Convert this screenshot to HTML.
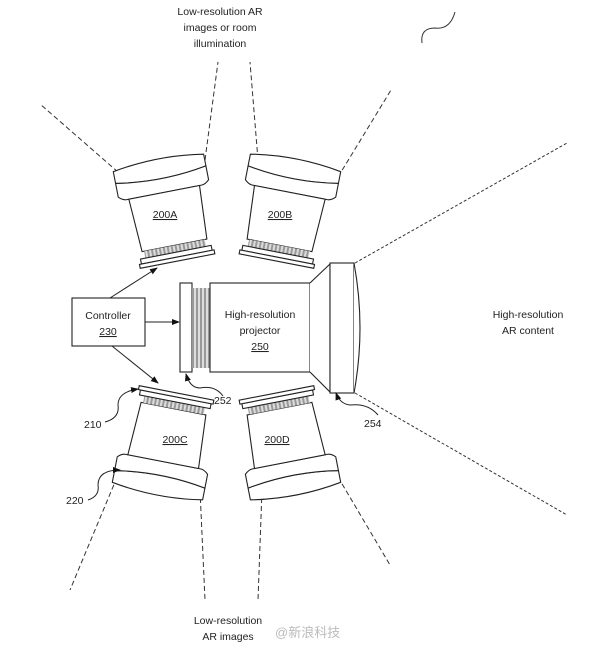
<!DOCTYPE html>
<html><head><meta charset="utf-8"><style>
html,body{margin:0;padding:0;background:#fff;width:600px;height:648px;overflow:hidden}
svg{display:block}
text{font-family:"Liberation Sans",Arial,sans-serif;font-size:10.5px;fill:#222}
</style></head><body>
<svg width="600" height="648" viewBox="0 0 600 648" xmlns="http://www.w3.org/2000/svg">
<defs>
<marker id="ar" markerWidth="8" markerHeight="8" refX="7" refY="4" orient="auto" markerUnits="userSpaceOnUse"><path d="M0,1 L8,4 L0,7 z" fill="#111"/></marker>
<pattern id="fin" width="4" height="4" patternUnits="userSpaceOnUse"><rect width="4" height="4" fill="#ddd"/><rect width="2" height="4" fill="#999"/></pattern>
<g id="proj" stroke="#222" stroke-width="1.1" fill="#fff">
<path d="M-46,-50 Q0,-58 46,-50 L46,-38 Q0,-30 -46,-38 Z"/>
<path d="M-46,-38 Q0,-30 46,-38 L46,-24 Q42,-20 38,-20 L-38,-20 Q-42,-20 -46,-24 Z"/>
<path d="M-36,-20 L36,-20 L33,34 L-33,34 Z"/>
<rect x="-31" y="34" width="62" height="7" fill="url(#fin)" stroke="none"/>
<rect x="-36" y="41" width="72" height="5"/>
<rect x="-38" y="46" width="76" height="4"/>
</g>
</defs>
<g fill="none" stroke="#333" stroke-width="1" stroke-dasharray="5,3">
<line x1="118" y1="172" x2="40" y2="104"/>
<line x1="205" y1="160" x2="218" y2="62"/>
<line x1="258" y1="160" x2="250" y2="62"/>
<line x1="338" y1="177" x2="391" y2="90"/>
<line x1="120" y1="470" x2="70" y2="590"/>
<line x1="200" y1="490" x2="205" y2="600"/>
<line x1="262" y1="490" x2="258" y2="600"/>
<line x1="338" y1="477" x2="390" y2="565"/>
<line x1="355" y1="263" x2="567" y2="143" stroke-dasharray="3,2"/>
<line x1="355" y1="393" x2="567" y2="515" stroke-dasharray="3,2"/>
</g>
<use href="#proj" transform="translate(168,212) rotate(-11)"/>
<use href="#proj" transform="translate(286,212) rotate(11)"/>
<use href="#proj" transform="translate(167,442) scale(1,-1) rotate(-11)"/>
<use href="#proj" transform="translate(286,442) scale(1,-1) rotate(11)"/>
<text x="165" y="218" text-decoration="underline" text-anchor="middle">200A</text>
<text x="280" y="218" text-decoration="underline" text-anchor="middle">200B</text>
<text x="175" y="443" text-decoration="underline" text-anchor="middle">200C</text>
<text x="277" y="443" text-decoration="underline" text-anchor="middle">200D</text>
<!-- main projector -->
<g stroke="#222" stroke-width="1.1" fill="#fff">
<rect x="180" y="283" width="12" height="89"/>
<rect x="192" y="288" width="18" height="80" fill="url(#fin)" stroke="none"/>
<rect x="210" y="283" width="100" height="89"/>
<path d="M310,283 L330,264 L330,392 L310,372"/>
<rect x="330" y="263" width="24" height="130"/>
<path d="M354,263 Q366,328 354,393"/>
</g>
<text x="260" y="318" text-anchor="middle">High-resolution</text>
<text x="260" y="334" text-anchor="middle">projector</text>
<text x="260" y="350" text-anchor="middle" text-decoration="underline">250</text>
<!-- controller -->
<rect x="72" y="298" width="73" height="48" fill="#fff" stroke="#222" stroke-width="1.1"/>
<text x="108" y="319" text-anchor="middle">Controller</text>
<text x="108" y="335" text-anchor="middle" text-decoration="underline">230</text>
<g stroke="#222" stroke-width="1" fill="none" marker-end="url(#ar)">
<line x1="110" y1="298" x2="157" y2="268"/>
<line x1="145" y1="322" x2="179" y2="322"/>
<line x1="112" y1="346" x2="158" y2="383"/>
<path d="M223,396 Q215,385 200,388 Q190,388 186,374"/>
<path d="M378,415 Q368,403 350,405 Q340,404 336,393"/>
<path d="M105,422 Q120,418 118,405 Q118,392 138,389"/>
<path d="M88,500 Q100,496 98,485 Q98,470 120,470"/>
</g>
<path d="M422,43 Q420,28 435,28 Q450,30 455,12" fill="none" stroke="#333" stroke-width="1"/>
<text x="214" y="404">252</text>
<text x="364" y="427">254</text>
<text x="84" y="428">210</text>
<text x="66" y="504">220</text>
<text x="220" y="15" text-anchor="middle">Low-resolution AR</text>
<text x="220" y="31" text-anchor="middle">images or room</text>
<text x="220" y="47" text-anchor="middle">illumination</text>
<text x="528" y="318" text-anchor="middle">High-resolution</text>
<text x="528" y="334" text-anchor="middle">AR content</text>
<text x="228" y="624" text-anchor="middle">Low-resolution</text>
<text x="228" y="640" text-anchor="middle">AR images</text>
<text x="275" y="637" style="font-family:'Liberation Sans','Noto Sans CJK SC',sans-serif;font-size:13px;fill:#bbb">@新浪科技</text>
</svg>
</body></html>
